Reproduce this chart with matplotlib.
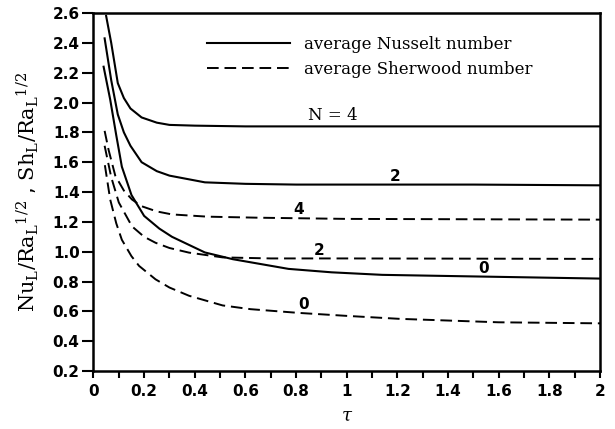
import numpy as np
import matplotlib
matplotlib.use("Agg")
import matplotlib.pyplot as plt

# average Nusselt number curves (solid)
tau_nu4 = [0.05, 0.07, 0.096, 0.12, 0.146, 0.19, 0.25, 0.3, 0.4, 0.6, 1.0, 1.5, 2.0]
nu4 = [2.58, 2.40, 2.13, 2.03, 1.96, 1.90, 1.865, 1.85, 1.845, 1.84, 1.84, 1.84, 1.84]

tau_nu2 = [0.044, 0.07, 0.096, 0.12, 0.146, 0.19, 0.25, 0.3, 0.44, 0.6, 0.8, 1.0, 1.5, 2.0]
nu2 = [2.43, 2.15, 1.92, 1.80, 1.71, 1.60, 1.54, 1.51, 1.465, 1.455, 1.45, 1.45, 1.45, 1.445]

tau_nu0 = [0.04, 0.066, 0.09, 0.112, 0.15, 0.2, 0.26, 0.31, 0.44, 0.55, 0.77, 0.94, 1.14, 1.48, 2.0]
nu0 = [2.24, 2.02, 1.78, 1.57, 1.38, 1.24, 1.155, 1.10, 0.995, 0.95, 0.885, 0.862, 0.845, 0.835, 0.82]

# average Sherwood number curves (dashed)
tau_sh4 = [0.044, 0.06, 0.086, 0.12, 0.152, 0.19, 0.25, 0.31, 0.45, 0.65, 1.0, 2.0]
sh4 = [1.81, 1.68, 1.51, 1.41, 1.35, 1.305, 1.27, 1.25, 1.235, 1.228, 1.22, 1.215]

tau_sh2 = [0.044, 0.07, 0.1, 0.152, 0.2, 0.245, 0.3, 0.377, 0.51, 0.7, 1.0, 2.0]
sh2 = [1.71, 1.50, 1.33, 1.17, 1.10, 1.06, 1.025, 0.994, 0.962, 0.955, 0.955, 0.952]

tau_sh0 = [0.045, 0.066, 0.09, 0.112, 0.15, 0.18, 0.245, 0.3, 0.377, 0.51, 0.62, 0.81, 1.0, 1.21, 1.6, 2.0]
sh0 = [1.58, 1.35, 1.19, 1.08, 0.97, 0.905, 0.815, 0.76, 0.705, 0.64, 0.615, 0.59, 0.57, 0.55, 0.527, 0.52]

# curve labels: text, tau, value
curve_labels = [("N = 4", 0.944, 1.845), ("2", 1.19, 1.45), ("0", 1.54, 0.835),
                ("4", 0.81, 1.225), ("2", 0.89, 0.955), ("0", 0.83, 0.59)]

xticks = np.arange(0, 2.01, 0.2)
xtick_labels = ["0", "0.2", "0.4", "0.6", "0.8", "1", "1.2", "1.4", "1.6", "1.8", "2"]
yticks = np.arange(0.2, 2.61, 0.2)

plt.rcParams['mathtext.fontset'] = 'dejavuserif'
tickfont = ['Liberation Sans Narrow', 'DejaVu Sans']

fig = plt.figure(figsize=(6.15, 4.29), dpi=100)
ax = fig.add_axes([0.152, 0.135, 0.8236, 0.8347])

solid = dict(color='black', lw=1.5)
dashed = dict(color='black', lw=1.4, linestyle=(0, (6, 3)))

ax.plot(tau_nu4, nu4, label='average Nusselt number', **solid)
ax.plot(tau_nu2, nu2, **solid)
ax.plot(tau_nu0, nu0, **solid)
ax.plot(tau_sh4, sh4, label='average Sherwood number', **dashed)
ax.plot(tau_sh2, sh2, **dashed)
ax.plot(tau_sh0, sh0, **dashed)

for txt, x, y in curve_labels:
    if txt.startswith("N"):
        ax.text(x, y + 0.01, txt, ha='center', va='bottom', fontsize=12, family='DejaVu Serif')
    else:
        ax.text(x, y + 0.005, txt, ha='center', va='bottom', fontsize=11,
                family=tickfont, fontweight='bold')

ax.set_xlim(0, 2)
ax.set_ylim(0.2, 2.6)
ax.set_xticks(xticks)
ax.set_xticklabels(xtick_labels)
ax.set_xticks(np.arange(0.1, 2.0, 0.2), minor=True)
ax.set_yticks(yticks)
ax.set_yticklabels(["%.1f" % v for v in yticks])

ax.tick_params(axis='y', direction='out', length=8, width=1.5, pad=2)
ax.tick_params(axis='x', which='both', direction='out', length=5, width=1.5, pad=4)
for lab in ax.get_xticklabels() + ax.get_yticklabels():
    lab.set_family(tickfont)
    lab.set_fontweight('bold')
    lab.set_fontsize(11)
for s in ax.spines.values():
    s.set_linewidth(1.8)

ax.set_xlabel(r'$\tau$', fontsize=13, labelpad=6)
ax.set_ylabel(r'$\mathrm{Nu_L/Ra_L}^{1/2}$ , $\mathrm{Sh_L/Ra_L}^{1/2}$',
              fontsize=15, labelpad=8)

leg = ax.legend(loc='upper left', bbox_to_anchor=(0.224, 0.935), frameon=False,
                handlelength=5.0, handletextpad=0.8, labelspacing=0.45,
                borderpad=0, borderaxespad=0,
                prop={'family': 'DejaVu Serif', 'size': 12})

fig.savefig('out.png', dpi=100)
